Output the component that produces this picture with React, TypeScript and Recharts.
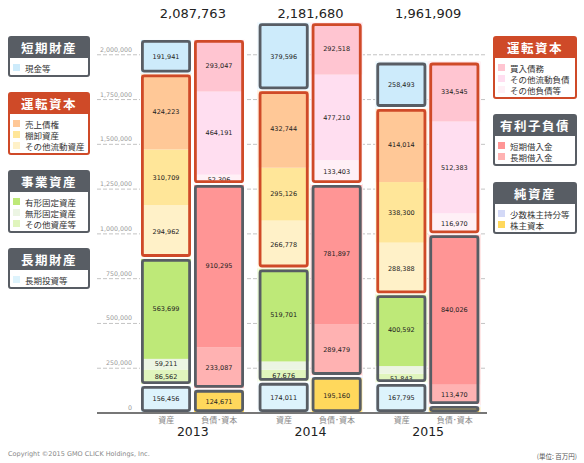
import React from "react"
import { Bar, BarChart, CartesianGrid, XAxis, YAxis } from "recharts"

const years = ["2013", "2014", "2015"]
const totals = [2087763, 2181680, 1961909]

// 資産 (下から)
const longInvest = [156456, 174011, 167795]
const otherAssets = [86562, 67676, 51843]
const intangible = [59211, 46048, 42484]
const tangible = [563699, 519701, 400592]
const otherCurrent = [294962, 266778, 288388]
const inventory = [310709, 295126, 338300]
const receivables = [424223, 432744, 414014]
const cash = [191941, 379596, 258493]

// 負債・資本 (下から)
const equity = [124671, 195160, 34515]
const minority = [10166, 12013, 10000]
const longLoans = [233087, 289479, 113470]
const shortLoans = [910295, 781897, 840026]
const otherLiab = [52306, 133403, 116970]
const otherCurLiab = [464191, 477210, 512383]
const payables = [293047, 292518, 334545]

const yTicks = [0, 250000, 500000, 750000, 1000000, 1250000, 1500000, 1750000, 2000000]

const GRAY = "#585d64"
const ORANGE = "#cf4a28"
const CJK = "'Noto Sans CJK JP', sans-serif"
const NUM = "'DejaVu Sans', sans-serif"

const series = [
  { key: "longInvest", name: "長期投資等", stack: "a", color: "#ddf3fc", values: longInvest },
  { key: "otherAssets", name: "その他資産等", stack: "a", color: "#e0f5bd", values: otherAssets },
  { key: "intangible", name: "無形固定資産", stack: "a", color: "#ecf5e3", values: intangible },
  { key: "tangible", name: "有形固定資産", stack: "a", color: "#bee978", values: tangible },
  { key: "otherCurrent", name: "その他流動資産", stack: "a", color: "#fff1c8", values: otherCurrent },
  { key: "inventory", name: "棚卸資産", stack: "a", color: "#ffe699", values: inventory },
  { key: "receivables", name: "売上債権", stack: "a", color: "#ffc897", values: receivables },
  { key: "cash", name: "現金等", stack: "a", color: "#cdebfb", values: cash },
  { key: "equity", name: "株主資本", stack: "l", color: "#ffd85c", values: equity },
  { key: "minority", name: "少数株主持分等", stack: "l", color: "#d3d9f7", values: minority },
  { key: "longLoans", name: "長期借入金", stack: "l", color: "#ffb2b2", values: longLoans },
  { key: "shortLoans", name: "短期借入金", stack: "l", color: "#ff9595", values: shortLoans },
  { key: "otherLiab", name: "その他負債等", stack: "l", color: "#fff0f6", values: otherLiab },
  { key: "otherCurLiab", name: "その他流動負債", stack: "l", color: "#ffdef0", values: otherCurLiab },
  { key: "payables", name: "買入債務", stack: "l", color: "#ffc5d1", values: payables },
]

const groups = [
  { color: GRAY, keys: ["longInvest"] },
  { color: GRAY, keys: ["otherAssets", "intangible", "tangible"] },
  { color: ORANGE, keys: ["otherCurrent", "inventory", "receivables"] },
  { color: GRAY, keys: ["cash"] },
  { color: GRAY, keys: ["equity", "minority"] },
  { color: GRAY, keys: ["longLoans", "shortLoans"] },
  { color: ORANGE, keys: ["otherLiab", "otherCurLiab", "payables"] },
]

const data = years.map((year, i) => {
  const row: any = { year, total: totals[i] }
  series.forEach((s) => (row[s.key] = s.values[i]))
  return row
})

const colorOf = (k: string) => series.find((s) => s.key === k)!.color

function Segment(props: any) {
  const { x, y, width, height, payload, segKey } = props
  const v = payload[segKey]
  const group = groups.find((g) => g.keys.includes(segKey))!
  let frame = null
  if (group.keys[group.keys.length - 1] === segKey && v > 0) {
    const gv = group.keys.reduce((s, k) => s + payload[k], 0)
    const gh = (gv * height) / v
    frame = (
      <g>
        <rect x={x + 0.5} y={y + 0.5} width={width - 1} height={gh - 1} fill="none" stroke="#fff" strokeWidth={1} />
        <rect x={x + 2.4} y={y + 2.4} width={width - 4.8} height={gh - 4.8} rx={2} fill="none" stroke={group.color} strokeWidth={2.8} />
      </g>
    )
  }
  return (
    <g>
      <rect x={x} y={y} width={width} height={height} fill={colorOf(segKey)} />
      {v >= 50000 && (
        <text x={x + width / 2} y={y + height / 2} dy="0.35em" textAnchor="middle" fontSize={6.5} fontFamily={NUM} fill="#222">
          {v.toLocaleString("en-US")}
        </text>
      )}
      {frame}
    </g>
  )
}

function YTick({ x, y, payload }: any) {
  return (
    <text x={x + 35} y={y - 3} textAnchor="end" fontSize={6.3} fontFamily={NUM} fill="#999">
      {payload.value.toLocaleString("en-US")}
    </text>
  )
}

function YearTick({ x, y, payload }: any) {
  return (
    <g>
      <text x={x - 26.5} y={y + 10} textAnchor="middle" fontSize={8} fontFamily={CJK} fill="#888">資産</text>
      <text x={x + 26.5} y={y + 10} textAnchor="middle" fontSize={8} fontFamily={CJK} fill="#888">負債･資本</text>
      <text x={x} y={y + 23} textAnchor="middle" fontSize={12.5} fontFamily={NUM} fill="#222">{payload.value}</text>
    </g>
  )
}

function TotalTick({ x, payload }: any) {
  return (
    <text x={x} y={17.5} textAnchor="middle" fontSize={13} fontFamily={NUM} fill="#222">
      {Number(payload.value).toLocaleString("en-US")}
    </text>
  )
}

interface LegendBoxProps {
  top: number
  left: number
  width: number
  title: string
  color: string
  keys: string[]
}

function LegendBox({ top, left, width, title, color, keys }: LegendBoxProps) {
  return (
    <div
      style={{
        position: "absolute", top, left, width, boxSizing: "border-box",
        border: `2px solid ${color}`, borderRadius: 3, background: "#fff", fontFamily: CJK,
      }}
    >
      <div style={{ background: color, color: "#fff", fontWeight: "bold", fontSize: 12.5, letterSpacing: 1.5, textAlign: "center", height: 20, lineHeight: "20px" }}>
        {title}
      </div>
      <div style={{ padding: "4px 0 2px 3px" }}>
        {keys.map((k) => (
          <div key={k} style={{ display: "flex", alignItems: "center", height: 11, fontSize: 8.5, color: "#333", whiteSpace: "nowrap" }}>
            <span style={{ width: 7, height: 7, background: colorOf(k), marginRight: 5, flexShrink: 0 }} />
            {series.find((s) => s.key === k)!.name}
          </div>
        ))}
      </div>
    </div>
  )
}

export default function App() {
  return (
    <div style={{ position: "relative", width: 584, height: 463, background: "#fff", overflow: "hidden" }}>
      <style>{"body{margin:0}"}</style>
      <BarChart width={584} height={463} data={data} margin={{ top: 0, right: 97, bottom: 10, left: 0 }} barSize={52} barGap={1}>
        <CartesianGrid vertical={false} horizontalValues={yTicks} stroke="#c4c4c4" strokeDasharray="4 2" />
        <XAxis dataKey="year" height={40} padding={{ left: 37, right: 0 }} tickLine={false} tickSize={0} tickMargin={0} axisLine={{ stroke: "#777", strokeWidth: 2 }} tick={<YearTick />} interval={0} />
        <XAxis xAxisId="top" orientation="top" dataKey="total" height={10} padding={{ left: 37, right: 0 }} tickLine={false} axisLine={false} tick={<TotalTick />} interval={0} />
        <YAxis width={97} domain={[0, 2250000]} ticks={yTicks} tickLine={false} tickSize={0} tickMargin={0} axisLine={false} tick={<YTick />} interval={0} />
        {series.map((s) => (
          <Bar key={s.key} dataKey={s.key} stackId={s.stack} isAnimationActive={false} shape={(p: any) => <Segment {...p} segKey={s.key} />} />
        ))}
      </BarChart>

      <LegendBox top={36} left={8} width={82} title="短期財産" color={GRAY} keys={["cash"]} />
      <LegendBox top={92} left={8} width={82} title="運転資本" color={ORANGE} keys={["receivables", "inventory", "otherCurrent"]} />
      <LegendBox top={170} left={8} width={82} title="事業資産" color={GRAY} keys={["tangible", "intangible", "otherAssets"]} />
      <LegendBox top={248} left={8} width={82} title="長期財産" color={GRAY} keys={["longInvest"]} />

      <LegendBox top={36} left={493} width={84} title="運転資本" color={ORANGE} keys={["payables", "otherCurLiab", "otherLiab"]} />
      <LegendBox top={114} left={493} width={84} title="有利子負債" color={GRAY} keys={["shortLoans", "longLoans"]} />
      <LegendBox top={182} left={493} width={84} title="純資産" color={GRAY} keys={["minority", "equity"]} />

      <div style={{ position: "absolute", left: 8, top: 450, fontSize: 6.5, color: "#888", fontFamily: NUM }}>
        Copyright ©2015 GMO CLICK Holdings, Inc.
      </div>
      <div style={{ position: "absolute", right: 7, top: 451, fontSize: 6.5, color: "#555", fontFamily: CJK }}>
        (単位: 百万円)
      </div>
    </div>
  )
}
